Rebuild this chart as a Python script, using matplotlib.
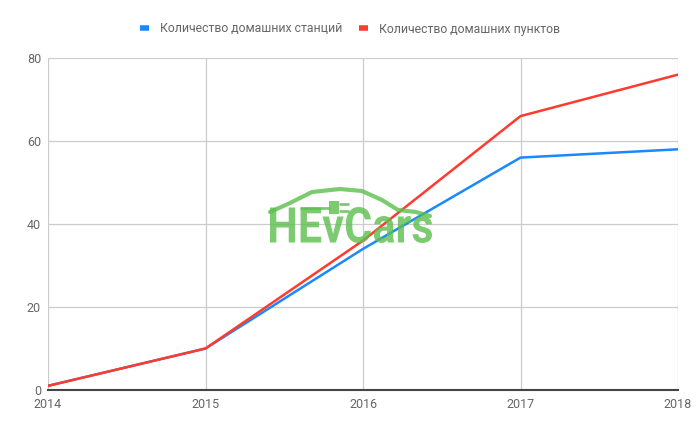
import matplotlib
matplotlib.use('Agg')
import matplotlib.pyplot as plt
from matplotlib.textpath import TextPath
from matplotlib.font_manager import FontProperties
from matplotlib.patches import PathPatch
from matplotlib.path import Path
import matplotlib.transforms as mtransforms

plt.rcParams['font.family'] = ['Roboto', 'DejaVu Sans']

# данные
years = [2014, 2015, 2016, 2017, 2018]
stations = [1, 10, 34, 56, 58]
points = [1, 10, 36, 66, 76]
labels = ['Количество домашних станций', 'Количество домашних пунктов']
y_ticks = [0, 20, 40, 60, 80]

W, H = 700, 432
fig = plt.figure(figsize=(W / 100, H / 100), dpi=100)
ax = fig.add_axes([48 / W, 42 / H, 630 / W, 332 / H])

ax.plot(years, stations, color='#1a88ff', lw=1.8, label=labels[0], zorder=3)
ax.plot(years, points, color='#ff3b2f', lw=1.8, label=labels[1], zorder=3)

ax.set_xlim(2014, 2018)
ax.set_ylim(0, 80)
ax.set_xticks(years)
ax.set_yticks(y_ticks)
ax.grid(True, color='#cccccc', lw=0.9)
ax.set_axisbelow(True)
for s in ['top', 'right', 'left']:
    ax.spines[s].set_visible(False)
ax.spines['bottom'].set_color('#444444')
ax.spines['bottom'].set_linewidth(1.5)
ax.tick_params(length=0, colors='#666666', labelsize=9)
ax.tick_params(axis='x', pad=6)
ax.tick_params(axis='y', pad=5)

leg = fig.legend(loc='center', bbox_to_anchor=(0.5, 1 - 29 / H), ncol=2, frameon=False,
                 fontsize=8.8, handlelength=0.8, handletextpad=0.9, columnspacing=1.3)
for line in leg.get_lines():
    line.set_linewidth(4)
    line.set_solid_capstyle('butt')
for t in leg.get_texts():
    t.set_color('#666666')

# водяной знак HEvCars
green = '#5cbf4e'
tp = TextPath((0, 0), 'HEvCars', size=1, prop=FontProperties(family='Roboto', weight='bold'))
ext = tp.get_extents()
sx = 162 / ext.width
sy = 36 / ext.height
tr = (mtransforms.Affine2D().translate(-ext.x0, -ext.y0).scale(sx, sy)
      .translate(270, H - 243).scale(1 / W, 1 / H) + fig.transFigure)
fig.patches.append(PathPatch(tp, transform=tr, facecolor=green, edgecolor='none', alpha=0.8, zorder=5))

roof = [(270, 212), (290, 203), (312, 192), (340, 189), (362, 191), (382, 200),
        (398, 210), (416, 212), (430, 216)]
roof_path = Path([(x / W, 1 - y / H) for x, y in roof])
fig.patches.append(PathPatch(roof_path, transform=fig.transFigure, facecolor='none',
                             edgecolor=green, lw=3, alpha=0.8, capstyle='round',
                             joinstyle='round', zorder=5))
cord = Path([(300 / W, 1 - 208 / H), (330 / W, 1 - 208 / H)])
fig.patches.append(PathPatch(cord, transform=fig.transFigure, facecolor='none',
                             edgecolor=green, lw=2, alpha=0.8, zorder=5))
fig.patches.append(plt.Rectangle((329 / W, 1 - 214 / H), 10 / W, 13 / H, transform=fig.transFigure,
                                 facecolor=green, edgecolor='none', alpha=0.8, zorder=5))
prongs = Path([(339 / W, 1 - 204 / H), (349 / W, 1 - 204 / H),
               (339 / W, 1 - 211 / H), (349 / W, 1 - 211 / H)],
              [Path.MOVETO, Path.LINETO, Path.MOVETO, Path.LINETO])
fig.patches.append(PathPatch(prongs, transform=fig.transFigure, facecolor='none',
                             edgecolor=green, lw=2, alpha=0.8, zorder=5))

fig.savefig('out.png', dpi=100)
